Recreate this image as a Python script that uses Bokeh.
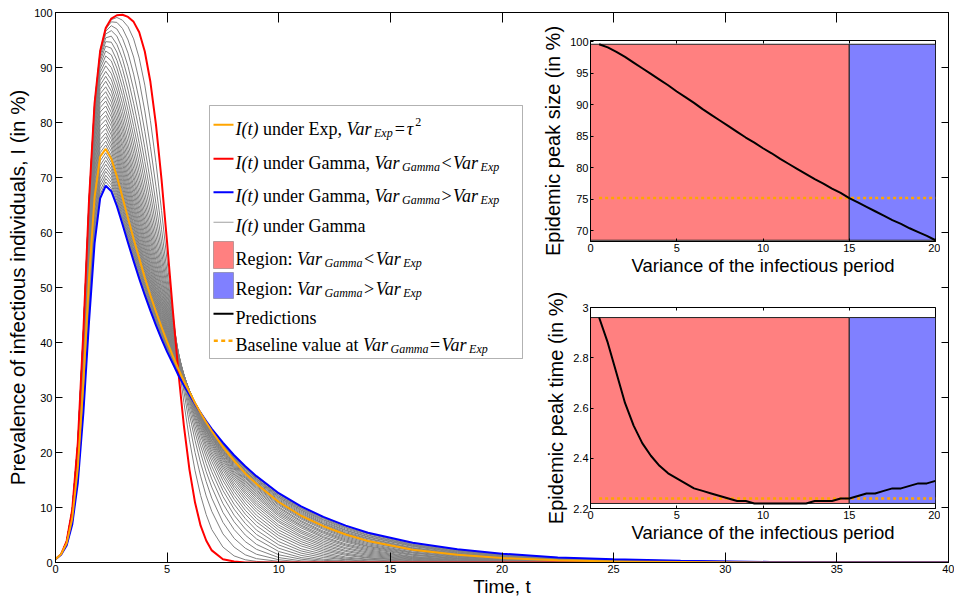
from bokeh.plotting import figure
from bokeh.models import (FixedTicker, LinearAxis, Label, BoxAnnotation,
                          CustomJSTickFormatter, Range1d)
from bokeh.layouts import column
from bokeh.embed import file_html
from bokeh.resources import INLINE

# ====================== DATA ======================
# time axis samples
time = [0, 0.25, 0.5, 0.75, 1, 1.25, 1.5, 1.75, 2, 2.25, 2.5, 2.75, 3, 3.25, 3.5, 3.75,
        4, 4.25, 4.5, 4.75, 5, 5.25, 5.5, 5.75, 6, 6.25, 6.5, 6.75, 7, 7.5, 8, 8.5, 9,
        10, 11, 12, 13, 14, 16, 18, 20, 22.5, 25, 28, 32, 36, 40]

# variance of the infectious period for each curve
variance = [0.5, 1.0, 1.5, 2.0, 2.5, 3.0, 3.5, 4.0, 4.5, 5.0, 5.5, 6.0, 6.5, 7.0, 7.5,
            8.0, 8.5, 9.0, 9.5, 10.0, 10.5, 11.0, 11.5, 12.0, 12.5, 13.0, 13.5, 14.0,
            14.5, 15.0, 15.5, 16.0, 16.5, 17.0, 17.5, 18.0, 18.5, 19.0, 19.5, 20.0]
var_exp = 15.0  # variance of the exponential case (tau^2)

# prevalence I(t) in per mille (tenths of a percent), one list per variance
I_var_0_5 = [6, 15, 39, 96, 218, 421, 657, 835, 930, 972, 989, 995, 996, 992, 983, 964, 929, 874, 796, 696, 581, 461, 348, 249, 169, 109, 67, 40, 22, 6, 2, 0, 0, 0, 0, 0, 0, 0, 0, 0, 0, 0, 0, 0, 0, 0, 0]
I_var_1_0 = [6, 15, 39, 96, 218, 421, 657, 835, 930, 972, 987, 991, 986, 974, 952, 917, 868, 804, 727, 640, 548, 456, 369, 291, 223, 167, 122, 87, 60, 28, 12, 5, 2, 0, 0, 0, 0, 0, 0, 0, 0, 0, 0, 0, 0, 0, 0]
I_var_1_5 = [6, 15, 39, 96, 218, 421, 657, 834, 929, 970, 983, 982, 971, 950, 919, 876, 821, 756, 684, 606, 527, 450, 377, 311, 251, 200, 157, 121, 93, 52, 28, 14, 7, 2, 0, 0, 0, 0, 0, 0, 0, 0, 0, 0, 0, 0, 0]
I_var_2_0 = [6, 15, 39, 96, 218, 421, 656, 833, 927, 966, 976, 970, 953, 926, 888, 841, 784, 721, 653, 583, 513, 445, 381, 322, 269, 222, 181, 147, 117, 73, 44, 26, 15, 5, 1, 0, 0, 0, 0, 0, 0, 0, 0, 0, 0, 0, 0]
I_var_2_5 = [6, 15, 39, 96, 217, 421, 656, 832, 925, 961, 967, 957, 934, 902, 860, 811, 754, 693, 630, 565, 501, 440, 382, 329, 280, 237, 199, 165, 137, 91, 60, 38, 24, 9, 3, 1, 0, 0, 0, 0, 0, 0, 0, 0, 0, 0, 0]
I_var_3_0 = [6, 15, 39, 96, 217, 420, 654, 830, 921, 954, 957, 942, 916, 879, 835, 785, 729, 671, 611, 551, 492, 436, 383, 334, 289, 248, 212, 180, 152, 107, 74, 50, 33, 14, 6, 2, 1, 0, 0, 0, 0, 0, 0, 0, 0, 0, 0]
I_var_3_5 = [6, 15, 39, 96, 217, 420, 653, 827, 916, 947, 946, 928, 898, 859, 813, 762, 708, 652, 595, 538, 484, 431, 382, 337, 295, 257, 222, 192, 165, 120, 86, 61, 43, 20, 9, 4, 2, 1, 0, 0, 0, 0, 0, 0, 0, 0, 0]
I_var_4_0 = [6, 15, 39, 96, 217, 418, 651, 824, 911, 939, 935, 913, 880, 840, 793, 743, 690, 635, 581, 528, 476, 428, 382, 339, 299, 263, 231, 201, 175, 131, 97, 71, 51, 26, 13, 6, 3, 1, 0, 0, 0, 0, 0, 0, 0, 0, 0]
I_var_4_5 = [6, 15, 39, 96, 216, 417, 648, 820, 905, 930, 923, 899, 864, 822, 775, 725, 673, 621, 569, 519, 470, 424, 380, 340, 303, 268, 237, 209, 184, 140, 106, 80, 59, 32, 17, 9, 5, 2, 1, 0, 0, 0, 0, 0, 0, 0, 0]
I_var_5_0 = [6, 15, 39, 96, 215, 415, 645, 815, 898, 921, 912, 885, 849, 806, 759, 709, 659, 608, 559, 511, 464, 420, 379, 341, 305, 273, 243, 215, 191, 149, 115, 88, 67, 38, 21, 12, 6, 3, 1, 0, 0, 0, 0, 0, 0, 0, 0]
I_var_5_5 = [6, 15, 39, 95, 214, 413, 641, 810, 891, 912, 900, 872, 834, 791, 744, 695, 646, 597, 549, 503, 459, 417, 378, 341, 307, 276, 247, 221, 197, 156, 122, 95, 74, 44, 25, 15, 8, 5, 1, 0, 0, 0, 0, 0, 0, 0, 0]
I_var_6_0 = [6, 15, 39, 95, 213, 410, 637, 804, 884, 903, 889, 859, 820, 777, 730, 682, 634, 587, 541, 497, 454, 414, 377, 342, 309, 279, 251, 226, 202, 162, 129, 102, 80, 49, 30, 18, 10, 6, 2, 1, 0, 0, 0, 0, 0, 0, 0]
I_var_6_5 = [6, 15, 39, 95, 212, 408, 632, 798, 876, 893, 878, 847, 807, 763, 717, 670, 623, 578, 533, 490, 450, 411, 375, 342, 310, 281, 254, 230, 207, 168, 135, 108, 86, 54, 34, 21, 13, 8, 3, 1, 0, 0, 0, 0, 0, 0, 0]
I_var_7_0 = [6, 15, 39, 94, 210, 404, 627, 791, 868, 884, 867, 835, 795, 751, 705, 659, 614, 569, 526, 485, 446, 409, 374, 341, 311, 283, 257, 233, 211, 173, 140, 114, 92, 59, 38, 24, 15, 9, 4, 1, 1, 0, 0, 0, 0, 0, 0]
I_var_7_5 = [6, 15, 39, 93, 209, 401, 622, 784, 860, 875, 857, 824, 784, 740, 695, 649, 605, 561, 519, 479, 442, 406, 372, 341, 312, 285, 259, 236, 215, 177, 145, 119, 97, 64, 42, 27, 17, 11, 5, 2, 1, 0, 0, 0, 0, 0, 0]
I_var_8_0 = [6, 15, 38, 93, 207, 397, 616, 777, 852, 865, 847, 813, 773, 729, 684, 640, 596, 554, 513, 475, 438, 403, 371, 341, 312, 286, 261, 239, 218, 181, 150, 124, 102, 68, 46, 30, 20, 13, 6, 2, 1, 0, 0, 0, 0, 0, 0]
I_var_8_5 = [6, 15, 38, 92, 205, 393, 610, 770, 844, 856, 837, 803, 762, 719, 675, 631, 588, 547, 508, 470, 434, 401, 369, 340, 313, 287, 263, 241, 221, 185, 154, 128, 106, 73, 49, 33, 22, 15, 7, 3, 1, 0, 0, 0, 0, 0, 0]
I_var_9_0 = [6, 15, 38, 91, 203, 389, 604, 762, 835, 847, 828, 793, 753, 709, 666, 623, 581, 541, 502, 466, 431, 399, 368, 339, 313, 288, 265, 243, 223, 188, 158, 132, 110, 76, 53, 36, 25, 17, 8, 4, 2, 1, 0, 0, 0, 0, 0]
I_var_9_5 = [6, 15, 38, 91, 201, 385, 597, 755, 827, 839, 818, 784, 743, 700, 657, 615, 574, 535, 497, 462, 428, 396, 367, 339, 313, 289, 266, 245, 226, 191, 161, 136, 114, 80, 56, 39, 27, 19, 9, 4, 2, 1, 0, 0, 0, 0, 0]
I_var_10_0 = [6, 15, 38, 90, 199, 380, 590, 747, 819, 830, 810, 775, 734, 692, 649, 608, 568, 529, 493, 458, 425, 394, 365, 338, 313, 289, 267, 247, 228, 193, 164, 139, 118, 84, 59, 42, 30, 21, 10, 5, 2, 1, 0, 0, 0, 0, 0]
I_var_10_5 = [6, 15, 37, 89, 196, 375, 583, 739, 810, 821, 801, 766, 726, 684, 642, 601, 562, 524, 488, 454, 422, 392, 364, 337, 313, 290, 268, 248, 229, 196, 167, 142, 121, 87, 63, 45, 32, 23, 11, 6, 3, 1, 0, 0, 0, 0, 0]
I_var_11_0 = [6, 15, 37, 88, 194, 370, 576, 731, 802, 813, 793, 758, 718, 676, 635, 594, 556, 519, 484, 451, 419, 390, 363, 337, 313, 290, 269, 249, 231, 198, 170, 145, 124, 90, 66, 47, 34, 25, 13, 7, 3, 1, 1, 0, 0, 0, 0]
I_var_11_5 = [6, 15, 37, 87, 191, 365, 569, 723, 794, 805, 784, 750, 710, 669, 628, 588, 550, 514, 480, 447, 417, 388, 361, 336, 312, 290, 270, 250, 232, 200, 172, 148, 127, 93, 68, 50, 37, 27, 14, 7, 4, 2, 1, 0, 0, 0, 0]
I_var_12_0 = [6, 15, 37, 86, 189, 360, 561, 714, 786, 797, 777, 742, 703, 662, 622, 582, 545, 510, 476, 444, 414, 386, 360, 335, 312, 291, 270, 251, 234, 202, 174, 150, 130, 96, 71, 53, 39, 29, 15, 8, 4, 2, 1, 0, 0, 0, 0]
I_var_12_5 = [6, 15, 36, 85, 186, 355, 554, 706, 778, 789, 769, 735, 696, 655, 615, 577, 540, 505, 472, 441, 412, 384, 359, 334, 312, 291, 271, 252, 235, 204, 176, 153, 132, 99, 74, 55, 41, 30, 17, 9, 5, 2, 1, 0, 0, 0, 0]
I_var_13_0 = [6, 15, 36, 84, 183, 349, 546, 698, 769, 781, 761, 728, 689, 649, 610, 572, 535, 501, 469, 438, 410, 383, 357, 334, 311, 291, 271, 253, 236, 205, 178, 155, 135, 101, 76, 57, 43, 32, 18, 10, 6, 3, 1, 1, 0, 0, 0]
I_var_13_5 = [6, 15, 36, 83, 181, 344, 538, 689, 761, 774, 754, 721, 682, 643, 604, 567, 531, 497, 465, 435, 407, 381, 356, 333, 311, 291, 272, 254, 237, 207, 180, 157, 137, 104, 79, 60, 45, 34, 19, 11, 6, 3, 2, 1, 0, 0, 0]
I_var_14_0 = [6, 15, 35, 82, 178, 338, 531, 681, 753, 766, 747, 714, 676, 637, 599, 562, 527, 493, 462, 433, 405, 379, 355, 332, 311, 291, 272, 254, 238, 208, 182, 159, 139, 106, 81, 62, 47, 36, 21, 12, 7, 4, 2, 1, 0, 0, 0]
I_var_14_5 = [6, 15, 35, 81, 175, 333, 523, 672, 745, 759, 740, 708, 670, 631, 593, 557, 522, 490, 459, 430, 403, 378, 354, 331, 310, 291, 272, 255, 239, 209, 183, 161, 141, 108, 83, 64, 49, 38, 22, 13, 8, 4, 2, 1, 0, 0, 0]
I_var_15_0 = [6, 15, 35, 80, 172, 327, 515, 664, 738, 752, 734, 702, 664, 626, 588, 553, 518, 486, 456, 428, 401, 376, 352, 330, 310, 290, 272, 255, 239, 210, 185, 162, 143, 110, 85, 66, 51, 39, 23, 14, 8, 4, 2, 1, 0, 0, 0]
I_var_15_5 = [6, 14, 34, 79, 170, 322, 507, 655, 730, 745, 727, 695, 659, 621, 584, 548, 515, 483, 453, 425, 399, 374, 351, 330, 309, 290, 272, 256, 240, 211, 186, 164, 145, 112, 87, 68, 53, 41, 25, 15, 9, 5, 3, 1, 0, 0, 0]
I_var_16_0 = [6, 14, 34, 78, 167, 316, 499, 647, 722, 738, 721, 690, 653, 616, 579, 544, 511, 480, 450, 423, 397, 373, 350, 329, 309, 290, 273, 256, 241, 212, 188, 166, 146, 114, 89, 70, 54, 43, 26, 16, 10, 5, 3, 1, 1, 0, 0]
I_var_16_5 = [6, 14, 34, 77, 164, 311, 491, 639, 714, 731, 715, 684, 648, 611, 575, 540, 507, 477, 448, 421, 395, 371, 349, 328, 308, 290, 273, 256, 241, 213, 189, 167, 148, 116, 91, 71, 56, 44, 27, 17, 10, 6, 3, 2, 1, 0, 0]
I_var_17_0 = [6, 14, 33, 76, 161, 305, 483, 630, 707, 724, 709, 678, 643, 606, 570, 536, 504, 474, 445, 418, 393, 370, 348, 327, 308, 290, 273, 257, 241, 214, 190, 168, 149, 118, 93, 73, 58, 46, 29, 18, 11, 6, 4, 2, 1, 0, 0]
I_var_17_5 = [6, 14, 33, 74, 159, 300, 476, 622, 699, 717, 703, 673, 638, 602, 566, 533, 501, 471, 443, 416, 392, 368, 347, 326, 307, 289, 273, 257, 242, 215, 191, 170, 151, 119, 95, 75, 59, 47, 30, 19, 12, 7, 4, 2, 1, 0, 0]
I_var_18_0 = [6, 14, 32, 73, 156, 295, 468, 613, 691, 711, 697, 668, 633, 597, 562, 529, 498, 468, 440, 414, 390, 367, 346, 326, 307, 289, 273, 257, 242, 215, 192, 171, 152, 121, 96, 77, 61, 49, 31, 20, 13, 7, 4, 2, 1, 0, 0]
I_var_18_5 = [6, 14, 32, 72, 153, 289, 460, 605, 684, 704, 691, 663, 628, 593, 559, 526, 494, 465, 438, 412, 388, 366, 345, 325, 306, 289, 272, 257, 243, 216, 193, 172, 153, 122, 98, 78, 63, 50, 32, 21, 13, 8, 5, 2, 1, 0, 0]
I_var_19_0 = [6, 14, 32, 71, 150, 284, 452, 597, 676, 698, 686, 658, 624, 589, 555, 522, 491, 463, 436, 410, 387, 364, 344, 324, 306, 289, 272, 257, 243, 217, 194, 173, 155, 124, 99, 80, 64, 52, 33, 22, 14, 8, 5, 3, 1, 0, 0]
I_var_19_5 = [6, 14, 31, 70, 148, 279, 445, 589, 669, 692, 680, 653, 620, 585, 551, 519, 489, 460, 433, 408, 385, 363, 342, 323, 305, 288, 272, 257, 243, 217, 194, 174, 156, 125, 101, 81, 66, 53, 35, 23, 15, 9, 5, 3, 1, 1, 0]
I_var_20_0 = [6, 14, 31, 69, 145, 273, 437, 580, 662, 685, 675, 648, 615, 581, 548, 516, 486, 458, 431, 406, 383, 362, 341, 322, 305, 288, 272, 257, 243, 218, 195, 175, 157, 126, 102, 83, 67, 54, 36, 24, 16, 9, 6, 3, 1, 1, 1]

# epidemic peak size (%) and peak time predicted for each variance (insets)
peak_size = [99.6, 99.1, 98.4, 97.6, 96.7, 95.8, 94.9, 94.0, 93.1, 92.1, 91.2, 90.3, 89.3, 88.4,
             87.5, 86.6, 85.7, 84.8, 84.0, 83.1, 82.3, 81.4, 80.6, 79.8, 79.0, 78.2, 77.5, 76.7,
             76.0, 75.2, 74.5, 73.8, 73.1, 72.4, 71.7, 71.1, 70.4, 69.8, 69.2, 68.5]
peak_time = [2.96, 2.86, 2.74, 2.62, 2.53, 2.46, 2.41, 2.37, 2.34, 2.32, 2.30, 2.28, 2.27, 2.26,
             2.25, 2.24, 2.23, 2.23, 2.22, 2.22, 2.22, 2.22, 2.22, 2.22, 2.22, 2.23, 2.23, 2.23,
             2.24, 2.24, 2.25, 2.26, 2.26, 2.27, 2.28, 2.28, 2.29, 2.30, 2.30, 2.31]

curves = [I_var_0_5, I_var_1_0, I_var_1_5, I_var_2_0, I_var_2_5, I_var_3_0, I_var_3_5, I_var_4_0,
          I_var_4_5, I_var_5_0, I_var_5_5, I_var_6_0, I_var_6_5, I_var_7_0, I_var_7_5, I_var_8_0,
          I_var_8_5, I_var_9_0, I_var_9_5, I_var_10_0, I_var_10_5, I_var_11_0, I_var_11_5,
          I_var_12_0, I_var_12_5, I_var_13_0, I_var_13_5, I_var_14_0, I_var_14_5, I_var_15_0,
          I_var_15_5, I_var_16_0, I_var_16_5, I_var_17_0, I_var_17_5, I_var_18_0, I_var_18_5,
          I_var_19_0, I_var_19_5, I_var_20_0]

# ====================== STYLE ======================
SANS = "'Liberation Sans', Arial, sans-serif"
SERIF = "'Liberation Serif', 'Times New Roman', serif"
RED, BLUE, ORANGE, GRAY = "#ff0000", "#0000ff", "#ffa500", "#808080"

def pct(row):
    return [v / 10 for v in row]

def style_axis(ax, tick_in, font_size):
    ax.major_tick_in = tick_in
    ax.major_tick_out = 0
    ax.minor_tick_in = 0
    ax.minor_tick_out = 0
    ax.axis_line_color = "black"
    ax.major_tick_line_color = "black"
    ax.major_label_text_font = SANS
    ax.major_label_text_font_size = font_size
    ax.major_label_text_color = "black"
    ax.axis_label_text_font = SANS
    ax.axis_label_text_font_style = "normal"
    ax.axis_label_text_color = "black"

blank = "return ''"

# ====================== MAIN FIGURE ======================
p = figure(width=954, height=601, x_range=Range1d(0, 40), y_range=Range1d(0, 100),
           output_backend="svg", toolbar_location=None,
           min_border_left=55, min_border_right=6, min_border_top=12, min_border_bottom=39)
p.grid.visible = False
p.outline_line_color = "black"
p.xaxis.ticker = FixedTicker(ticks=list(range(0, 41, 5)))
p.yaxis.ticker = FixedTicker(ticks=list(range(0, 101, 10)))
style_axis(p.xaxis[0], 10, "11px")
style_axis(p.yaxis[0], 7, "11px")
p.xaxis.axis_label = "Time, t"
p.yaxis.axis_label = "Prevalence of infectious individuals, I (in %)"
p.xaxis.axis_label_text_font_size = "19px"
p.yaxis.axis_label_text_font_size = "20.5px"
p.xaxis.major_label_standoff = 2
p.yaxis.major_label_standoff = 3
p.xaxis.axis_label_standoff = 0
p.yaxis.axis_label_standoff = 2

top_ax = LinearAxis(ticker=FixedTicker(ticks=list(range(0, 41, 5))),
                    formatter=CustomJSTickFormatter(code=blank))
right_ax = LinearAxis(ticker=FixedTicker(ticks=list(range(0, 101, 10))),
                      formatter=CustomJSTickFormatter(code=blank))
for ax, tl in ((top_ax, 10), (right_ax, 7)):
    style_axis(ax, tl, "1px")
    ax.major_label_standoff = 0
p.add_layout(top_ax, "above")
p.add_layout(right_ax, "right")

i_red, i_exp, i_blue = 0, variance.index(var_exp), len(variance) - 1
for i, row in enumerate(curves):
    if i in (i_red, i_exp, i_blue):
        continue
    p.line(time, pct(row), line_color=GRAY, line_width=1)
p.line(time, pct(curves[i_red]), line_color=RED, line_width=2)
p.line(time, pct(curves[i_blue]), line_color=BLUE, line_width=2)
p.line(time, pct(curves[i_exp]), line_color=ORANGE, line_width=2)

# ====================== LEGEND ======================
FX, FY = 55, 562  # page position of the main frame's bottom-left corner

def box(l, t_, r, b, **kw):
    p.add_layout(BoxAnnotation(left=l - FX, right=r - FX, top=FY - t_, bottom=FY - b,
                               left_units="screen", right_units="screen",
                               top_units="screen", bottom_units="screen",
                               level="overlay", **kw))

def txt(x, y, s, italic=False, size=18):
    p.add_layout(Label(x=x - FX, y=FY - y, x_units="screen", y_units="screen", text=s,
                       text_font=SERIF, text_font_size="%.1fpx" % size,
                       text_font_style="italic" if italic else "normal",
                       text_baseline="alphabetic", text_align="left",
                       text_color="black", level="overlay"))

REGW = {' ': 250, ',': 250, ':': 278, '<': 564, '>': 564, '=': 564, 'a': 444, 'b': 500,
        'c': 444, 'd': 500, 'e': 444, 'f': 333, 'g': 500, 'h': 500, 'i': 278, 'l': 278,
        'm': 778, 'n': 500, 'o': 500, 'p': 500, 'r': 333, 's': 389, 't': 278, 'u': 500,
        'v': 500, 'x': 500, 'B': 667, 'E': 611, 'G': 722, 'P': 556, 'R': 667, '2': 500}
ITAW = {'I': 333, '(': 333, ')': 333, 't': 278, 'V': 611, 'a': 500, 'r': 389, 'E': 611,
        'x': 444, 'p': 500, 'G': 722, 'm': 722, 'τ': 440}

def tw(s, italic, size):
    tab = ITAW if italic else REGW
    return sum(tab.get(ch, 500) for ch in s) / 1000.0 * size

def run(x, base, pieces):
    for s, it, size, dy, gap in pieces:
        x += gap
        txt(x, base + dy, s, it, size)
        x += tw(s, it, size)

F, S = 18, 12
VG = [("Var", True, F, 0, 4.5), ("Gamma", True, S, 4, 0.5)]
VE = [("Var", True, F, 0, 1.5), ("Exp", True, S, 4, 0.5)]
def op(c):
    return [(c, False, F, 0, 1.5)]
IT = [("I(t)", True, F, 0, 0)]

box(209, 105, 522, 358, fill_color="white", fill_alpha=1, line_color="black", line_width=1)
centers = [124.3, 158.3, 191.7, 221.7, 254.3, 284.3, 313.3, 340.0]
for c, col, h in zip(centers, [ORANGE, RED, BLUE, "#a0a0a0", None, None, "black", None],
                     [1, 1, 1, 0.5, 0, 0, 1, 0]):
    if col:
        box(213, c - h, 233, c + h, fill_color=col, fill_alpha=1, line_color=None)
for x0 in (213.3, 220.7, 228):
    box(x0, 339, x0 + 4, 341.5, fill_color=ORANGE, fill_alpha=1, line_color=None)
box(213, 241, 233, 268, fill_color="#ff8080", fill_alpha=1, line_color="#333333", line_width=1)
box(213, 272, 233, 298, fill_color="#8080ff", fill_alpha=1, line_color="#333333", line_width=1)

X0 = 235
b = [c + 4 for c in centers]
run(X0, b[0], IT + [("under Exp,", False, F, 0, 4.5), ("Var", True, F, 0, 4.5),
                    ("Exp", True, S, 4, 0.5), ("=", False, F, 0, 2), ("τ", True, F, 0, 2),
                    ("2", False, S, -7, 0.5)])
run(X0, b[1], IT + [("under Gamma,", False, F, 0, 4.5)] + VG + op("<") + VE)
run(X0, b[2], IT + [("under Gamma,", False, F, 0, 4.5)] + VG + op(">") + VE)
run(X0, b[3], IT + [("under Gamma", False, F, 0, 4.5)])
run(X0, b[4], [("Region:", False, F, 0, 0)] + VG + op("<") + VE)
run(X0, b[5], [("Region:", False, F, 0, 0)] + VG + op(">") + VE)
run(X0, b[6], [("Predictions", False, F, 0, 0)])
run(X0, b[7], [("Baseline value at", False, F, 0, 0)] + VG + op("=") + VE)

# ====================== INSETS ======================
def make_inset(y0, y1, yticks, ylabel, ovr=None):
    f = figure(width=410, height=264, x_range=Range1d(0, 20), y_range=Range1d(y0, y1),
               output_backend="svg", toolbar_location=None,
               min_border_left=60, min_border_right=5, min_border_top=22, min_border_bottom=41)
    f.grid.visible = False
    f.outline_line_color = "black"
    f.border_fill_alpha = 0
    f.xaxis.ticker = FixedTicker(ticks=[0, 5, 10, 15, 20])
    f.yaxis.ticker = FixedTicker(ticks=yticks)
    style_axis(f.xaxis[0], 3, "11px")
    style_axis(f.yaxis[0], 3, "11px")
    if ovr:
        f.yaxis.major_label_overrides = ovr
    f.xaxis.axis_label = "Variance of the infectious period"
    f.yaxis.axis_label = ylabel
    f.xaxis.axis_label_text_font_size = "18.5px"
    f.yaxis.axis_label_text_font_size = "20px"
    f.xaxis.major_label_standoff = 2
    f.yaxis.major_label_standoff = 2
    f.xaxis.axis_label_standoff = 0
    f.yaxis.axis_label_standoff = 3
    ta = LinearAxis(ticker=FixedTicker(ticks=[5, 10, 15]), formatter=CustomJSTickFormatter(code=blank))
    style_axis(ta, 3, "1px")
    ta.major_label_standoff = 0
    f.add_layout(ta, "above")
    return f

def fill_inset(f, values):
    lo, hi = min(values), max(values)
    f.quad(left=[0], right=[var_exp], bottom=[lo], top=[hi],
           fill_color="#ff8080", line_color="#222222", line_width=1)
    f.quad(left=[var_exp], right=[variance[-1]], bottom=[lo], top=[hi],
           fill_color="#8080ff", line_color="#222222", line_width=1)
    base = values[i_exp]
    f.line([variance[0], variance[-1]], [base, base], line_color=ORANGE, line_width=2.5,
           line_dash="3 3")
    f.line(variance, values, line_color="black", line_width=2)

f1 = make_inset(68.3, 100.2, [70, 75, 80, 85, 90, 95, 100], "Epidemic peak size (in %)")
fill_inset(f1, peak_size)
f2 = make_inset(2.2, 3.0, [2.2, 2.4, 2.6, 2.8, 3.0], "Epidemic peak time (in %)",
                {2.2: "2.2", 2.4: "2.4", 2.6: "2.6", 2.8: "2.8", 3.0: "3"})
fill_inset(f2, peak_time)

f2.margin = (3, 0, 0, 0)
insets = column(f1, f2, margin=(18 - 601, 0, 0, 530))
page = column(p, insets)
open("out.html", "w").write(file_html(page, INLINE))
